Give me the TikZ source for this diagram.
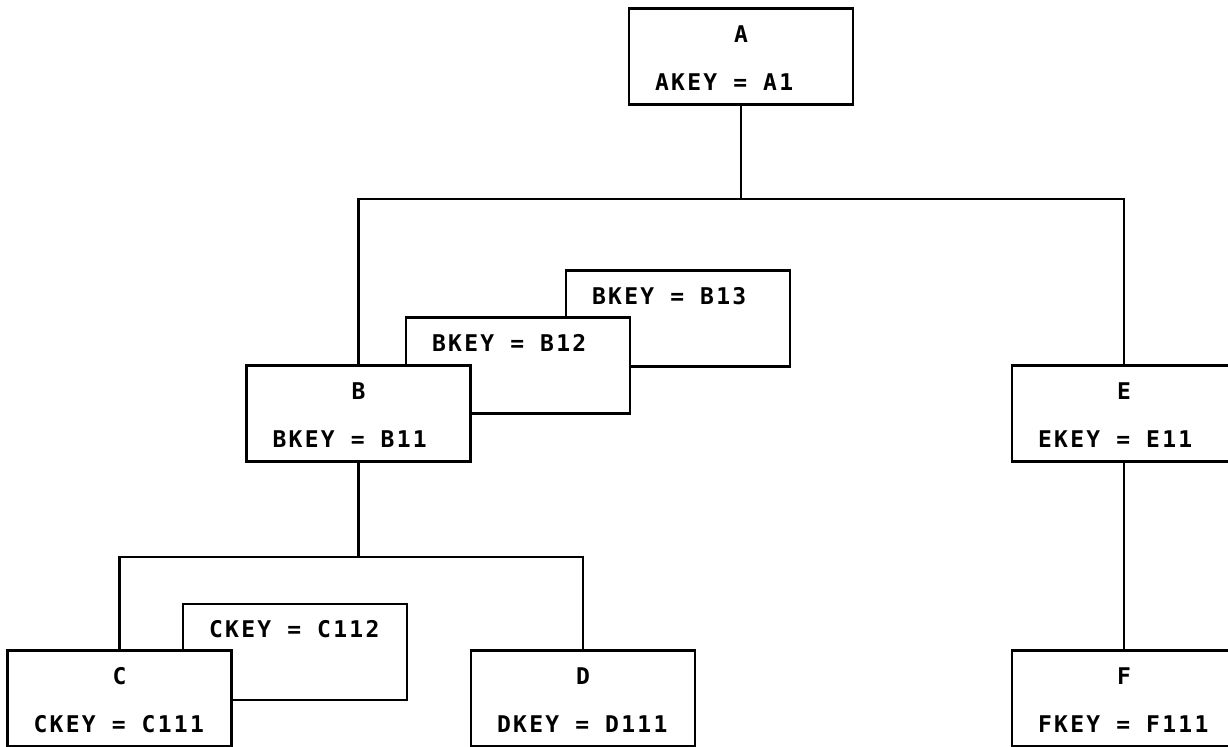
\documentclass[tikz,border=0pt]{standalone}
\usepackage{fontspec}
\setmonofont{DejaVu Sans Mono}[LetterSpace=10]
\newcommand{\keyval}[2]{#1\hspace{8pt}=\hspace{8pt}#2}

\begin{document}
\begin{tikzpicture}[
    x=0.5pt, y=-0.5pt,
    % Node styles
    record/.style={
        rectangle, draw=black, line width=1.3pt, fill=white,
        minimum width=112pt, minimum height=47.5pt,
        inner xsep=13pt, inner ysep=0pt,
        text width=86pt, align=left, text=black,
        font=\ttfamily\bfseries\fontsize{11.5}{24}\selectfont
    },
    link/.style={
        line width=1.3pt, black
    }
]

\useasboundingbox[fill=white] (0,0) rectangle (1228,747);

% --- Root ---
\node[record] (a) at (741,56.5) {\null\hfill A\hfill\null\strut\\\keyval{AKEY}{A1}\strut};

% --- Level 1: B occurrences (stacked) and E ---
\node[record] (b13) at (678,318.5) {\keyval{BKEY}{B13}\strut\\\strut};
\node[record] (b12) at (518,365.5) {\keyval{BKEY}{B12}\strut\\\strut};
\node[record] (b) at (358.5,413.5) {\null\hfill B\hfill\null\strut\\\keyval{BKEY}{B11}\strut};
\node[record] (e) at (1124,413.5) {\null\hfill E\hfill\null\strut\\\keyval{EKEY}{E11}\strut};

% --- Level 2 ---
\node[record] (c112) at (295,652) {\keyval{CKEY}{C112}\strut\\\strut};
\node[record] (c) at (119.5,698.5) {\null\hfill C\hfill\null\strut\\\keyval{CKEY}{C111}\strut};
\node[record] (d) at (583,698.5) {\null\hfill D\hfill\null\strut\\\keyval{DKEY}{D111}\strut};
\node[record] (f) at (1124,698.5) {\null\hfill F\hfill\null\strut\\\keyval{FKEY}{F111}\strut};

% --- Connectors ---
\coordinate (topbus) at (741,199);
\coordinate (lowbus) at (358.5,557);

\draw[link] (a.south) -- (topbus);
\draw[link] (b.north) |- (topbus) -| (e.north);
\draw[link] (b.south) -- (lowbus);
\draw[link] (c.north) |- (lowbus) -| (d.north);
\draw[link] (e.south) -- (f.north);

\end{tikzpicture}
\end{document}
